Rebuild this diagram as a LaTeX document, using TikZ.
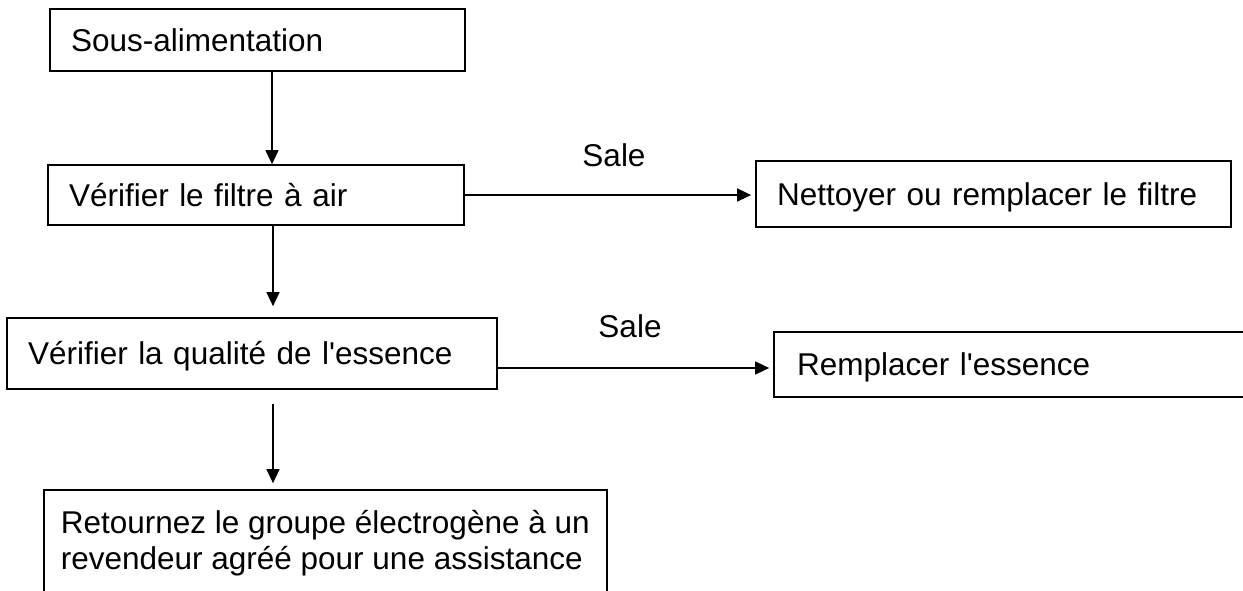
\documentclass[tikz,border=0pt]{standalone}
\usepackage{fontspec}
\newfontfamily\arialish{Liberation Sans}
\usetikzlibrary{arrows.meta}
\begin{document}
\begin{tikzpicture}[x=1pt,y=-1pt,
  txt/.style={font=\arialish\fontsize{31.5}{36.5}\selectfont},
  box/.style={txt, draw, line width=1.7pt, inner xsep=21pt, inner ysep=0pt, align=left, text height=22.6pt, text depth=0pt},
  bigbox/.style={txt, draw, line width=1.7pt, inner xsep=17pt, inner ysep=0pt, align=left},
  arr/.style={line width=1.5pt, -{Triangle[length=14pt,width=13pt]}},
  lbl/.style={txt, inner sep=0pt, anchor=base}]
\fill[white] (0,0) rectangle (1243,591);
\useasboundingbox (0,0) rectangle (1243,591);
\clip (0,0) rectangle (1243,591);

\node[box, text width=373pt, minimum height=62pt] (b1) at (257.5,40) {Sous-alimentation};
\node[box, text width=374pt, minimum height=60pt] (b2) at (256,195) {Vérifier le filtre à air};
\node[box, text width=433pt, minimum height=66pt] (b3) at (993.5,194) {Nettoyer ou remplacer le filtre};
\node[box, text width=448pt, minimum height=71pt] (b4) at (252,353.5) {Vérifier la qualité de l'essence};
\node[box, inner xsep=23pt, text width=480pt, minimum height=65pt] (b5) at (1037,364.5) {Remplacer l'essence};
\node[bigbox, anchor=west, minimum height=106pt] (b6) at (43,543) {Retournez le groupe électrogène à un\\revendeur agréé pour une assistance};

\node[lbl] (s1) at (614,167) {Sale};
\node[lbl] (s2) at (630,337) {Sale};

\coordinate (a1s) at ([xshift=14.5pt]b1.south);
\draw[arr] (a1s) -- (a1s |- b2.north);

\draw[arr, shorten >=4pt] (b2.east) -- (b2.east -| b3.west);

\coordinate (a3s) at ([xshift=17pt]b2.south);
\draw[arr, shorten >=11pt] (a3s) -- (a3s |- b4.north);

\coordinate (a4s) at ([yshift=-14.5pt]b4.east);
\draw[arr, shorten >=4pt] (a4s) -- (a4s -| b5.west);

\coordinate (a5s) at ([xshift=21pt]b4.south);
\draw[arr, shorten <=14pt, shorten >=6pt] (a5s) -- (a5s |- b6.north);
\end{tikzpicture}
\end{document}
